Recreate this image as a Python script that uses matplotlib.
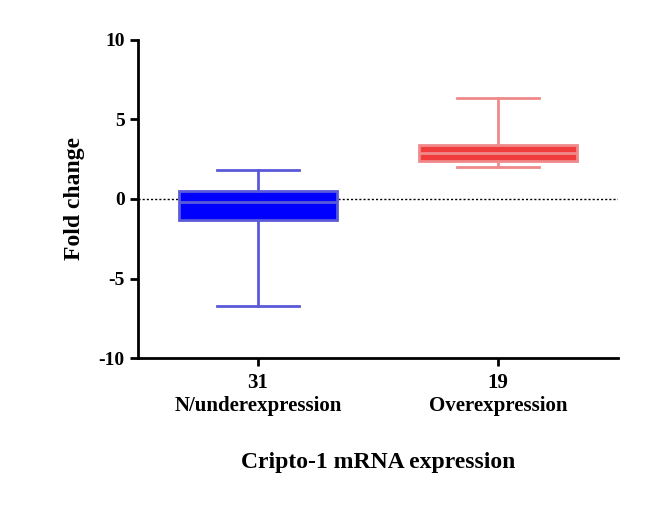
import matplotlib.pyplot as plt

groups = ['31\nN/underexpression', '19\nOverexpression']
medians = [-0.2, 2.9]
q1 = [-1.3, 2.4]
q3 = [0.5, 3.4]
whislo = [-6.7, 2.0]
whishi = [1.8, 6.35]
fills = ['#0000ff', '#f03c3c']
edges = ['#5a5ad8', '#f08a8a']

plt.rcParams['font.family'] = ['Liberation Serif', 'DejaVu Serif']
plt.rcParams['font.weight'] = 'bold'
plt.rcParams['axes.unicode_minus'] = False

fig = plt.figure(figsize=(6.66, 5.05), dpi=100)
ax = fig.add_axes([0.207, 0.291, 0.721, 0.630])

stats = []
for i in range(len(groups)):
    stats.append({'med': medians[i], 'q1': q1[i], 'q3': q3[i],
                  'whislo': whislo[i], 'whishi': whishi[i], 'label': groups[i]})

ax.axhline(0, color='black', lw=1, ls=(0, (1.5, 1.5)), zorder=0)

for i, s in enumerate(stats):
    ax.bxp([s], positions=[i + 1], widths=0.66, patch_artist=True, showfliers=False,
           boxprops=dict(facecolor=fills[i], edgecolor=edges[i], lw=2),
           medianprops=dict(color=edges[i], lw=2),
           whiskerprops=dict(color=edges[i], lw=2),
           capprops=dict(color=edges[i], lw=2), capwidths=0.34)

ax.set_xlim(0.5, 2.5)
ax.set_ylim(-10, 10)
ax.set_yticks([-10, -5, 0, 5, 10])
ax.set_xticks([1, 2])
ax.set_xticklabels(groups, fontsize=15, fontweight='bold', linespacing=1.2)
ax.tick_params(axis='y', labelsize=14, width=2, length=6)
ax.tick_params(axis='x', width=2, length=6, pad=5)
for sp in ['top', 'right']:
    ax.spines[sp].set_visible(False)
for sp in ['left', 'bottom']:
    ax.spines[sp].set_linewidth(2)

ax.set_ylabel('Fold change', fontsize=17, fontweight='bold', labelpad=10)
ax.set_xlabel('Cripto-1 mRNA expression', fontsize=17, fontweight='bold', labelpad=26)

fig.savefig('out.png', dpi=100)
